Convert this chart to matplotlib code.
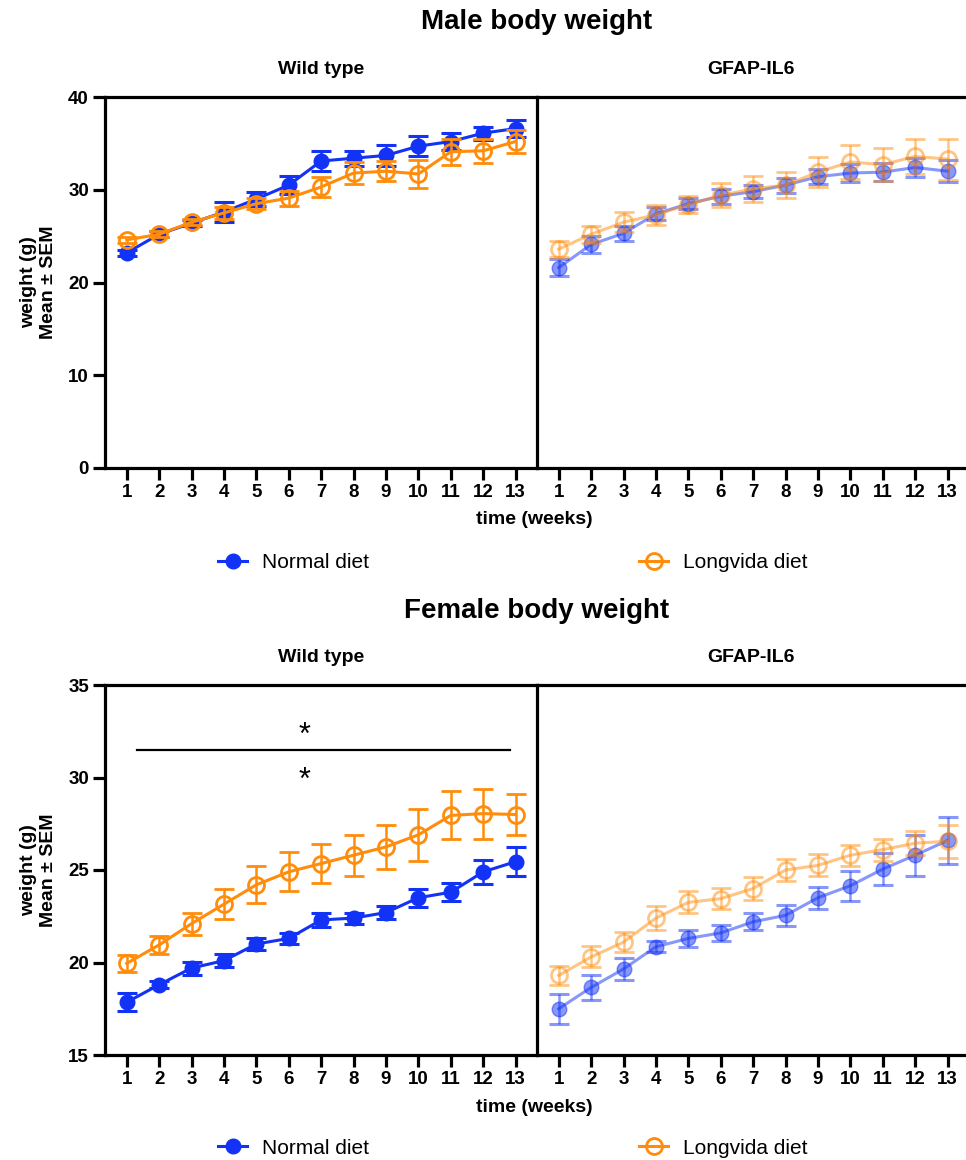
import matplotlib.pyplot as plt
from matplotlib.lines import Line2D

plt.rcParams['font.family'] = ['Liberation Sans', 'DejaVu Sans']
plt.rcParams['font.weight'] = 'bold'
plt.rcParams['axes.labelweight'] = 'bold'

weeks = list(range(1, 14))

# Male, wild type
male_wt_normal = [23.2, 25.2, 26.4, 27.6, 29.0, 30.5, 33.1, 33.4, 33.7, 34.7, 35.2, 36.1, 36.6]
male_wt_normal_sem = [0.3, 0.3, 0.3, 1.1, 0.8, 1.0, 1.05, 0.8, 1.1, 1.1, 0.9, 0.7, 0.9]
male_wt_longvida = [24.6, 25.2, 26.5, 27.5, 28.5, 29.1, 30.3, 31.8, 32.0, 31.7, 34.1, 34.2, 35.2]
male_wt_longvida_sem = [0.3, 0.3, 0.3, 0.6, 0.6, 0.8, 1.1, 1.2, 1.1, 1.5, 1.4, 1.3, 1.2]

# Male, GFAP-IL6
male_il6_normal = [21.6, 24.1, 25.3, 27.4, 28.5, 29.3, 29.8, 30.5, 31.4, 31.8, 31.9, 32.4, 32.0]
male_il6_normal_sem = [0.9, 0.9, 0.8, 0.7, 0.6, 0.8, 0.7, 0.8, 0.8, 1.0, 1.0, 1.0, 1.2]
male_il6_longvida = [23.6, 25.2, 26.5, 27.3, 28.4, 29.4, 30.1, 30.5, 31.9, 33.0, 32.7, 33.6, 33.3]
male_il6_longvida_sem = [0.9, 0.9, 1.1, 1.1, 0.9, 1.3, 1.4, 1.4, 1.6, 1.8, 1.8, 1.9, 2.2]

# Female, wild type
female_wt_normal = [17.85, 18.8, 19.7, 20.1, 21.0, 21.3, 22.3, 22.4, 22.7, 23.5, 23.8, 24.9, 25.45]
female_wt_normal_sem = [0.48, 0.2, 0.35, 0.35, 0.3, 0.3, 0.4, 0.3, 0.35, 0.5, 0.5, 0.65, 0.77]
female_wt_longvida = [19.95, 20.95, 22.1, 23.15, 24.2, 24.9, 25.35, 25.8, 26.25, 26.9, 27.95, 28.05, 28.0]
female_wt_longvida_sem = [0.45, 0.5, 0.6, 0.8, 1.0, 1.05, 1.05, 1.1, 1.2, 1.4, 1.3, 1.35, 1.1]

# Female, GFAP-IL6
female_il6_normal = [17.5, 18.65, 19.65, 20.85, 21.3, 21.6, 22.2, 22.55, 23.5, 24.15, 25.05, 25.8, 26.6]
female_il6_normal_sem = [0.8, 0.65, 0.6, 0.3, 0.45, 0.43, 0.47, 0.57, 0.6, 0.8, 0.85, 1.1, 1.25]
female_il6_longvida = [19.3, 20.3, 21.1, 22.4, 23.25, 23.45, 24.0, 25.0, 25.25, 25.8, 26.1, 26.45, 26.55]
female_il6_longvida_sem = [0.52, 0.57, 0.55, 0.63, 0.6, 0.57, 0.6, 0.6, 0.6, 0.57, 0.6, 0.65, 0.9]

BLUE = '#1232f5'
ORANGE = '#ff8c0a'
W, H = 966, 1160
SPINE = 2.3


def draw_panel(ax, normal, normal_sem, longvida, longvida_sem, alpha):
    ax.errorbar(weeks, normal, yerr=normal_sem, color=BLUE, lw=2.2, marker='o', ms=10.5,
                elinewidth=1.8, capsize=7, capthick=2.2, alpha=alpha, zorder=3)
    ax.errorbar(weeks, longvida, yerr=longvida_sem, color=ORANGE, lw=2.2, marker='o', ms=11.5,
                mfc='none', mew=2.0, elinewidth=1.8, capsize=7, capthick=2.2,
                alpha=alpha, zorder=4)
    ax.set_xlim(0.33, 13.66)
    ax.set_xticks(weeks)
    for s in ax.spines.values():
        s.set_linewidth(SPINE)
    ax.tick_params(direction='out', length=8.6, width=SPINE, labelsize=13.5, pad=3)


def make_row(top_px, bottom_px, ylim, yticks, data):
    axl = fig.add_axes([105 / W, 1 - bottom_px / H, 432 / W, (bottom_px - top_px) / H])
    axr = fig.add_axes([537 / W, 1 - bottom_px / H, 432 / W, (bottom_px - top_px) / H])
    axr.patch.set_visible(False)
    draw_panel(axl, *data[0], alpha=1.0)
    draw_panel(axr, *data[1], alpha=0.5)
    for ax in (axl, axr):
        ax.set_ylim(*ylim)
    axl.set_yticks(yticks)
    axr.set_yticks([])
    axr.spines['left'].set_visible(False)
    axr.spines['right'].set_visible(False)
    axl.set_ylabel('weight (g)\nMean ± SEM', fontsize=14, labelpad=8)
    return axl, axr


def add_legend(y_px):
    h1 = Line2D([], [], color=BLUE, lw=2.2, marker='o', ms=10.5)
    h2 = Line2D([], [], color=ORANGE, lw=2.2, marker='o', ms=11.5, mfc='none', mew=2.0)
    for h, lab, x in ((h1, 'Normal diet', 218), (h2, 'Longvida diet', 639)):
        fig.legend([h], [lab], loc='center left', bbox_to_anchor=(x / W, 1 - y_px / H),
                   frameon=False, borderpad=0, borderaxespad=0, handlelength=1.4,
                   handletextpad=0.7, prop={'size': 15, 'weight': 'normal'})


fig = plt.figure(figsize=(W / 100, H / 100), dpi=100)

# Male row
make_row(97, 468, (0, 40), [0, 10, 20, 30, 40],
         [(male_wt_normal, male_wt_normal_sem, male_wt_longvida, male_wt_longvida_sem),
          (male_il6_normal, male_il6_normal_sem, male_il6_longvida, male_il6_longvida_sem)])
fig.text(537 / W, 1 - 22 / H, 'Male body weight', ha='center', va='center', fontsize=20)
fig.text(321 / W, 1 - 70 / H, 'Wild type', ha='center', va='center', fontsize=14)
fig.text(751 / W, 1 - 70 / H, 'GFAP-IL6', ha='center', va='center', fontsize=14)
fig.text(534 / W, 1 - 520 / H, 'time (weeks)', ha='center', va='center', fontsize=14)
add_legend(563)

# Female row
axl, axr = make_row(685, 1055, (15, 35), [15, 20, 25, 30, 35],
                    [(female_wt_normal, female_wt_normal_sem, female_wt_longvida, female_wt_longvida_sem),
                     (female_il6_normal, female_il6_normal_sem, female_il6_longvida, female_il6_longvida_sem)])
axl.plot([1.32, 12.83], [31.5, 31.5], color='black', lw=1.6)
axl.text(6.5, 32.25, '*', ha='center', va='center', fontsize=22, fontweight='normal')
axl.text(6.5, 29.8, '*', ha='center', va='center', fontsize=22, fontweight='normal')
fig.text(537 / W, 1 - 611 / H, 'Female body weight', ha='center', va='center', fontsize=20)
fig.text(321 / W, 1 - 657 / H, 'Wild type', ha='center', va='center', fontsize=14)
fig.text(751 / W, 1 - 657 / H, 'GFAP-IL6', ha='center', va='center', fontsize=14)
fig.text(534 / W, 1 - 1108 / H, 'time (weeks)', ha='center', va='center', fontsize=14)
add_legend(1148)

fig.savefig('out.png', dpi=100)
